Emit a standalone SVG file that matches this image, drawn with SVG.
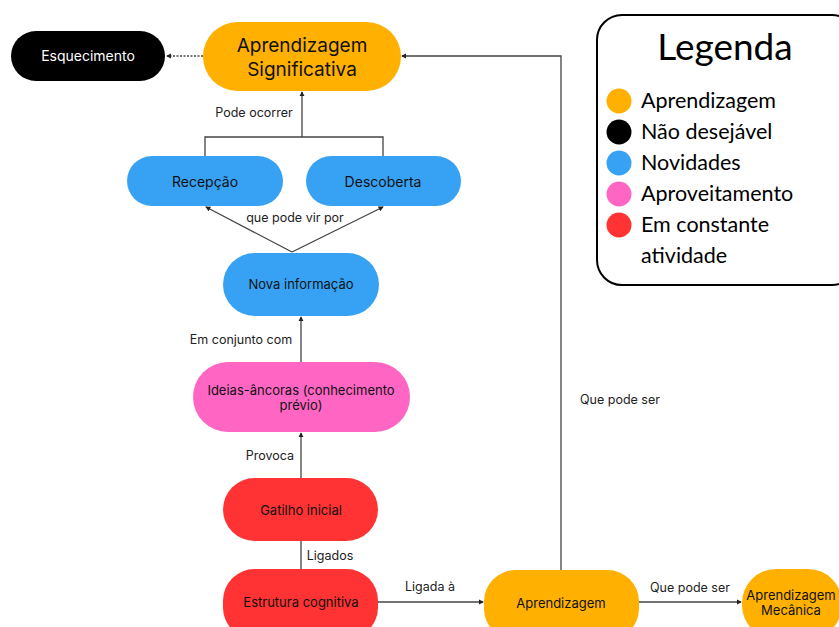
<svg xmlns="http://www.w3.org/2000/svg" width="839" height="627" viewBox="0 0 839 627">
<defs>
<style>
.t{font-family:Inter,"Noto Sans","DejaVu Sans",sans-serif;font-size:13px;fill:#111;text-anchor:middle}
.lbl{font-family:Inter,"Noto Sans","DejaVu Sans",sans-serif;font-size:12.5px;fill:#222;text-anchor:middle}
.big{font-family:Inter,"Noto Sans","DejaVu Sans",sans-serif;font-size:19px;fill:#111;text-anchor:middle}
.lg{font-family:Lato,"Noto Sans","DejaVu Sans",sans-serif;font-size:21.5px;fill:#000}
.c{fill:none;stroke:#444;stroke-width:1.3}
.orange{fill:#FFB000}.black{fill:#000}.blue{fill:#37A2F4}.pink{fill:#FF66C4}.red{fill:#FF3333}
</style>
<marker id="a" viewBox="0 0 6 6" refX="5" refY="3" markerWidth="4" markerHeight="4" orient="auto"><path d="M0,0L6,3L0,6z" fill="#222"/></marker>
</defs>
<rect width="839" height="627" fill="#fff"/>
<g id="connectors">
<path class="c" d="M203,56H167" stroke-dasharray="2,1.5" marker-end="url(#a)"/>
<path class="c" d="M561,570V56H402" marker-end="url(#a)"/>
<path class="c" d="M302,137V92" marker-end="url(#a)"/>
<path class="c" d="M205,156V137H383V156"/>
<path class="c" d="M292,252L206,207" marker-end="url(#a)"/>
<path class="c" d="M292,252L383,207" marker-end="url(#a)"/>
<path class="c" d="M301,362V317" marker-end="url(#a)"/>
<path class="c" d="M301,478V433" marker-end="url(#a)"/>
<path class="c" d="M301,541V569"/>
<path class="c" d="M378,602H483" marker-end="url(#a)"/>
<path class="c" d="M639,602H741" marker-end="url(#a)"/>
<text class="lbl" x="254" y="117">Pode ocorrer</text>
<text class="lbl" x="295" y="222">que pode vir por</text>
<text class="lbl" x="241" y="344">Em conjunto com</text>
<text class="lbl" x="270" y="460">Provoca</text>
<text class="lbl" x="330" y="560">Ligados</text>
<text class="lbl" x="430" y="591">Ligada à</text>
<text class="lbl" x="690" y="592">Que pode ser</text>
<text class="lbl" x="620" y="404">Que pode ser</text>
</g>
<g id="esquecimento"><rect class="black" x="11" y="31" width="154" height="50" rx="25"/><text class="t" x="88" y="61" style="fill:#fff;font-size:14px">Esquecimento</text></g>
<g id="aprendizagem-significativa"><rect class="orange" x="203" y="22" width="198" height="69" rx="34.5"/><text class="big" x="302" y="52">Aprendizagem</text><text class="big" x="302" y="76">Significativa</text></g>
<g id="recepcao"><rect class="blue" x="127" y="156" width="156" height="50" rx="25"/><text class="t" x="205" y="187" style="font-size:14px">Recepção</text></g>
<g id="descoberta"><rect class="blue" x="306" y="156" width="155" height="50" rx="25"/><text class="t" x="383" y="187" style="font-size:14px">Descoberta</text></g>
<g id="nova-informacao"><rect class="blue" x="223" y="253" width="156" height="63" rx="31.5"/><text class="t" x="301" y="289">Nova informação</text></g>
<g id="ideias-ancoras"><rect class="pink" x="193" y="362" width="217" height="70" rx="35"/><text class="t" x="301" y="395">Ideias-âncoras (conhecimento</text><text class="t" x="301" y="410">prévio)</text></g>
<g id="gatilho-inicial"><rect class="red" x="223" y="478" width="155" height="63" rx="31.5"/><text class="t" x="301" y="515">Gatilho inicial</text></g>
<g id="estrutura-cognitiva"><rect class="red" x="223" y="569" width="155" height="70" rx="31.5"/><text class="t" x="301" y="607">Estrutura cognitiva</text></g>
<g id="aprendizagem"><rect class="orange" x="484" y="570" width="155" height="70" rx="31.5"/><text class="t" x="561" y="608">Aprendizagem</text></g>
<g id="aprendizagem-mecanica"><rect class="orange" x="742" y="569" width="100" height="70" rx="34"/><text class="t" x="791" y="600">Aprendizagem</text><text class="t" x="791" y="615">Mecânica</text></g>
<g id="legenda">
<rect x="597" y="15" width="260" height="270" rx="25" fill="#fff" stroke="#000" stroke-width="2"/>
<text x="725" y="60" style="font-family:Lato,'Noto Sans',sans-serif;font-size:37px;fill:#000;text-anchor:middle">Legenda</text>
<circle class="orange" cx="619" cy="101" r="12.5"/><text class="lg" x="641" y="108">Aprendizagem</text>
<circle class="black" cx="619" cy="132" r="12.5"/><text class="lg" x="641" y="139">Não desejável</text>
<circle class="blue" cx="619" cy="163" r="12.5"/><text class="lg" x="641" y="170">Novidades</text>
<circle class="pink" cx="619" cy="194" r="12.5"/><text class="lg" x="641" y="201">Aproveitamento</text>
<circle class="red" cx="619" cy="225" r="12.5"/><text class="lg" x="641" y="232">Em constante</text>
<text class="lg" x="641" y="263">atividade</text>
</g>
</svg>
